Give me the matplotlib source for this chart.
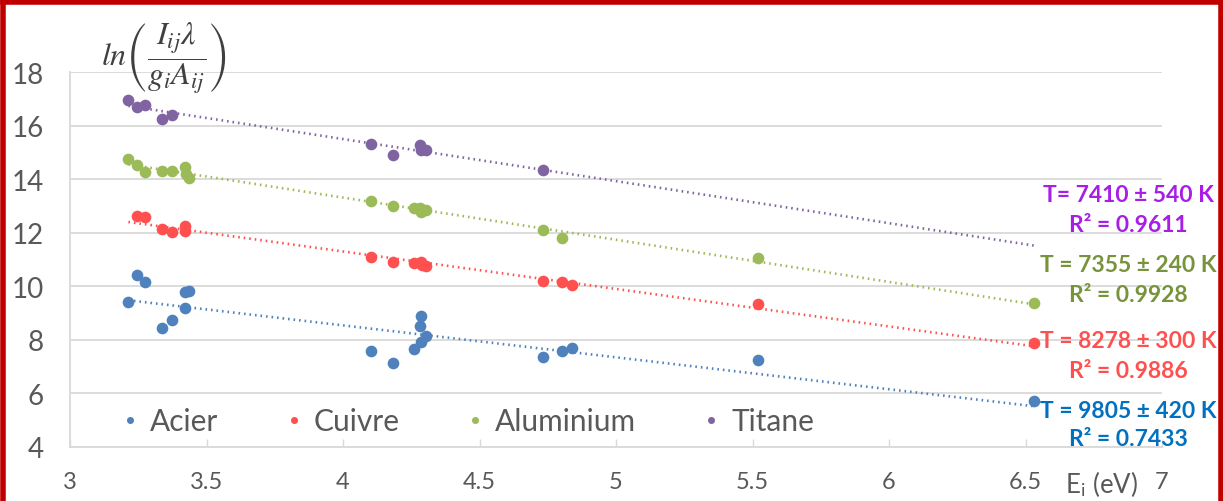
import numpy as np
import matplotlib
matplotlib.use("Agg")
import matplotlib.pyplot as plt
from matplotlib.lines import Line2D

plt.rcParams['font.family'] = ['Lato', 'DejaVu Sans']
plt.rcParams['mathtext.fontset'] = 'stix'

# ---------------- data ----------------
series_names = ["Acier", "Cuivre", "Aluminium", "Titane"]

acier_x = [3.214, 3.245, 3.275, 3.337, 3.375, 3.421, 3.421, 3.436, 4.103, 4.182,
           4.260, 4.285, 4.283, 4.286, 4.304, 4.731, 4.801, 4.838, 5.521, 6.530]
acier_y = [9.42, 10.42, 10.17, 8.43, 8.75, 9.19, 9.77, 9.83, 7.57, 7.13,
           7.66, 8.89, 8.53, 7.91, 8.13, 7.35, 7.60, 7.68, 7.25, 5.73]

cuivre_x = [3.245, 3.275, 3.337, 3.375, 3.422, 3.422, 4.103, 4.182, 4.260, 4.285,
            4.290, 4.304, 4.731, 4.801, 4.838, 5.521, 6.530]
cuivre_y = [12.61, 12.59, 12.15, 12.01, 12.26, 12.05, 11.10, 10.89, 10.87, 10.92,
            10.80, 10.76, 10.19, 10.16, 10.04, 9.35, 7.87]

alu_x = [3.214, 3.245, 3.275, 3.337, 3.375, 3.422, 3.425, 3.435, 4.103, 4.182,
         4.260, 4.283, 4.286, 4.304, 4.731, 4.801, 5.521, 6.530]
alu_y = [14.77, 14.53, 14.26, 14.32, 14.30, 14.47, 14.20, 14.03, 13.19, 13.00,
         12.93, 12.93, 12.78, 12.86, 12.10, 11.82, 11.04, 9.37]

titane_x = [3.214, 3.245, 3.275, 3.337, 3.375, 4.103, 4.182, 4.283, 4.286, 4.304, 4.731]
titane_y = [16.95, 16.71, 16.76, 16.25, 16.39, 15.33, 14.91, 15.28, 15.08, 15.09, 14.34]

temp_labels = ["T = 9805 ± 420 K", "T = 8278 ± 300 K", "T = 7355 ± 240 K", "T= 7410 ± 540 K"]
r2_labels = ["R² = 0.7433", "R² = 0.9886", "R² = 0.9928", "R² = 0.9611"]

x_ticks = [3, 3.5, 4, 4.5, 5, 5.5, 6, 6.5, 7]
x_tick_labels = ["3", "3.5", "4", "4.5", "5", "5.5", "6", "6.5", "7"]
y_ticks = [4, 6, 8, 10, 12, 14, 16, 18]

# ---------------- style ----------------
marker_colors = ["#4F81BD", "#FF5050", "#9BBB59", "#8064A2"]
text_colors = ["#0070C0", "#FF5050", "#77933C", "#A91EE6"]
label_ypx = [(412, 440), (342, 372), (265, 295), (195, 225)]

W, H = 1223, 502
fig = plt.figure(figsize=(W / 100, H / 100), dpi=100)
ax = fig.add_axes([70 / W, 1 - 448 / H, (1162 - 70) / W, (448 - 73) / H])

xs = [acier_x, cuivre_x, alu_x, titane_x]
ys = [acier_y, cuivre_y, alu_y, titane_y]

xmin = min(min(x) for x in xs)
xmax = max(max(x) for x in xs)
xfit = np.array([xmin, xmax])

for name, x, y, c in zip(series_names, xs, ys, marker_colors):
    ax.plot(x, y, 'o', color=c, markersize=8.4, markeredgewidth=0, label=name, zorder=3)
    k, b = np.polyfit(x, y, 1)
    ax.plot(xfit, k * xfit + b, color=c, lw=1.9, linestyle=(0, (0.6, 1.5)),
            dash_capstyle='butt', zorder=2)

ax.set_xlim(3, 7)
ax.set_ylim(4, 18)
ax.set_xticks(x_ticks)
ax.set_xticklabels(x_tick_labels)
ax.set_yticks(y_ticks)
ax.grid(axis='y', color='#D9D9D9', lw=1.3)
ax.set_axisbelow(True)
for s in ['top', 'right']:
    ax.spines[s].set_visible(False)
ax.spines['left'].set_color('#D9D9D9')
ax.spines['left'].set_linewidth(1.3)
ax.spines['bottom'].set_color('#D9D9D9')
ax.spines['bottom'].set_linewidth(1.3)
ax.tick_params(axis='x', direction='in', length=6, width=1, color='#D9D9D9',
               labelsize=17, labelcolor='#595959', pad=17)
ax.tick_params(axis='y', length=0, labelsize=20, labelcolor='#595959', pad=19)

leg = ax.legend(loc='center left', bbox_to_anchor=((121 - 70) / 1092, (448 - 422) / 375),
                ncol=4, frameon=False, fontsize=21.5, labelcolor='#595959',
                handlelength=0.6, handletextpad=0.37, columnspacing=2.22,
                markerscale=0.6, borderpad=0, borderaxespad=0)

# x-axis title
fig.text(1102 / W, 1 - 484 / H, r"E$_\mathregular{i}$ (eV)", ha='center', va='center',
         fontsize=18.5, color='#595959')

# y-axis title
fig.text(164 / W, 1 - 58 / H, r"$ln\left(\dfrac{I_{ij}\lambda}{g_i A_{ij}}\right)$",
         ha='center', va='center', fontsize=23, color='#404040')

# temperature annotations
for t, r, c, (y1, y2) in zip(temp_labels, r2_labels, text_colors, label_ypx):
    fig.text(1128 / W, 1 - y1 / H, t, ha='center', va='center', fontsize=16.5,
             fontweight='bold', color=c)
    fig.text(1128 / W, 1 - y2 / H, r, ha='center', va='center', fontsize=16.5,
             fontweight='bold', color=c)

# red frame
for xy in [([2.5 / W, 2.5 / W], [0, 1 - 2.5 / H]),
           ([2.5 / W, 1 - 2 / W], [1 - 2.5 / H, 1 - 2.5 / H]),
           ([1 - 2 / W, 1 - 2 / W], [1 - 2.5 / H, 0])]:
    fig.add_artist(Line2D(xy[0], xy[1], color='#C00000', lw=4, transform=fig.transFigure))

fig.savefig("out.png", dpi=100)
